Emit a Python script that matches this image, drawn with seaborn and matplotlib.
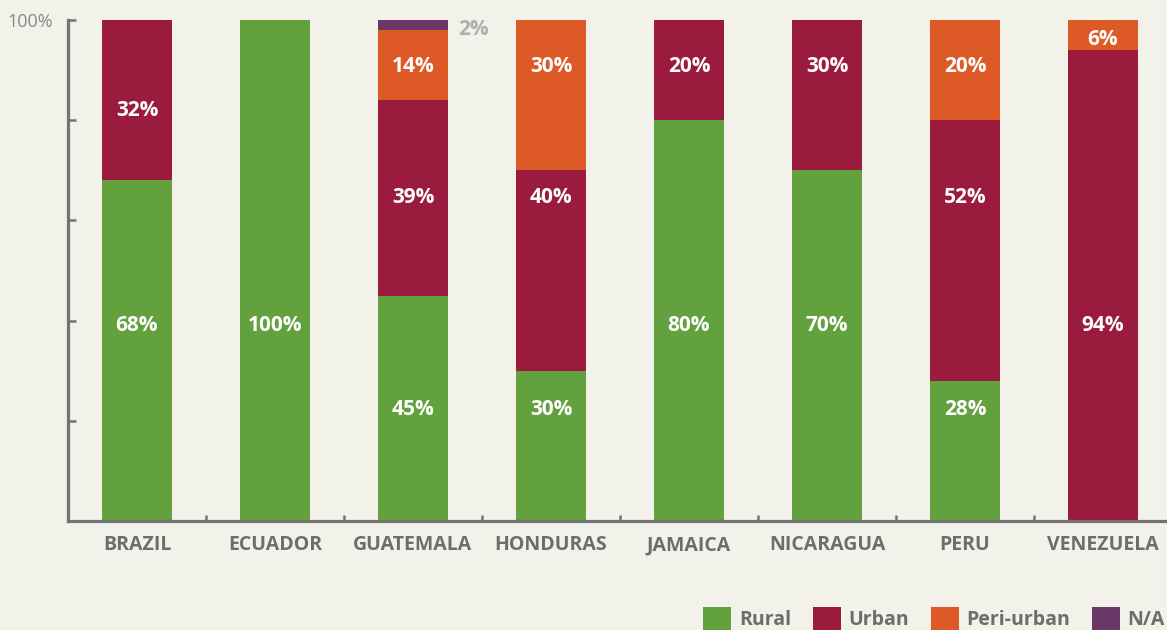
import numpy as np
import pandas as pd
import matplotlib
matplotlib.use("Agg")
import matplotlib.pyplot as plt
import matplotlib.transforms as mtransforms
import seaborn as sns
from matplotlib.patches import Patch

# ---- data ----
countries = ["BRAZIL", "ECUADOR", "GUATEMALA", "HONDURAS", "JAMAICA", "NICARAGUA", "PERU", "VENEZUELA"]
rural = [68, 100, 45, 30, 80, 70, 28, 0]
urban = [32, 0, 39, 40, 20, 30, 52, 94]
peri_urban = [0, 0, 14, 30, 0, 0, 20, 6]
not_available = [0, 0, 2, 0, 0, 0, 0, 0]
series_names = ["Rural", "Urban", "Peri-urban", "N/A"]
y_tick_values = [0, 20, 40, 60, 80, 100]

# label placement (layout, in axis % units) for each value label
label_y_rural = [39.1, 39.1, 22.3, 22.3, 39.1, 39.1, 22.3, 39.1]
label_y_urban = [82.0, None, 64.6, 64.6, 90.7, 90.7, 64.6, 39.1]
label_y_peri = [None, None, 90.7, 90.7, None, None, 90.7, 96.2]

colors = {"Rural": "#63a03e", "Urban": "#9a1b3e", "Peri-urban": "#dd5a27", "N/A": "#6a3766"}
bg = "#f2f1ea"
axis_gray = "#737373"
text_gray = "#6e6e69"

sns.set_style("ticks")
plt.rcParams["font.family"] = ["Open Sans", "DejaVu Sans"]

df = pd.DataFrame({"country": countries, "Rural": rural, "Urban": urban,
                   "Peri-urban": peri_urban, "N/A": not_available})
df["c_rural"] = df["Rural"]
df["c_urban"] = df["c_rural"] + df["Urban"]
df["c_peri"] = df["c_urban"] + df["Peri-urban"]
df["c_na"] = df["c_peri"] + df["N/A"]

fig = plt.figure(figsize=(11.67, 6.30), dpi=100, facecolor=bg)
W, H = 1167, 630
left, right, top, bottom = 68, 1172, 20, 521
ax = fig.add_axes([left / W, (H - bottom) / H, (right - left) / W, (bottom - top) / H])
ax.set_facecolor(bg)

bar_w = 0.51
for col, name in [("c_na", "N/A"), ("c_peri", "Peri-urban"), ("c_urban", "Urban"), ("c_rural", "Rural")]:
    sns.barplot(data=df, x="country", y=col, color=colors[name], width=bar_w,
                saturation=1, ax=ax, linewidth=0, order=countries)

ax.set_xlim(-0.5, 7.5)
ax.set_ylim(0, 100)
ax.set_xlabel("")
ax.set_ylabel("")

# value labels
lab_kw = dict(ha="center", va="center", color="white", fontsize=15, fontweight="bold")
for i in range(len(countries)):
    if rural[i] > 0 and label_y_rural[i] is not None:
        ax.text(i, label_y_rural[i], f"{rural[i]}%", **lab_kw)
    if urban[i] > 0 and label_y_urban[i] is not None:
        ax.text(i, label_y_urban[i], f"{urban[i]}%", **lab_kw)
    if peri_urban[i] > 0 and label_y_peri[i] is not None:
        ax.text(i, label_y_peri[i], f"{peri_urban[i]}%", **lab_kw)
    if not_available[i] > 0:
        ax.text(i + bar_w / 2 + 0.07, 98.1, f"{not_available[i]}%", ha="left", va="center",
                color="#b1afa9", fontsize=15, fontweight="bold")

# spines
for s in ["top", "right"]:
    ax.spines[s].set_visible(False)
for s in ["left", "bottom"]:
    ax.spines[s].set_color(axis_gray)
    ax.spines[s].set_linewidth(2.3)

# y ticks
ax.set_yticks(y_tick_values)
ax.set_yticklabels(["" if v != 100 else "100%" for v in y_tick_values])
ax.tick_params(axis="y", direction="in", length=6, width=1.8, color=axis_gray,
               labelsize=13, labelcolor="#8a8a85", pad=11)

# x ticks: labels at centers (drawn on a common baseline), marks at boundaries
ax.set_xticks(range(len(countries)))
ax.set_xticklabels([])
ax.tick_params(axis="x", which="major", length=0)
trans = mtransforms.blended_transform_factory(ax.transData, ax.transAxes)
base_y = (bottom - 550) / (bottom - top)
for i, c in enumerate(countries):
    ax.text(i, base_y, c, transform=trans, ha="center", va="baseline",
            fontweight="bold", fontsize=14, color=text_gray, clip_on=False)
ax.set_xticks(np.arange(0.5, len(countries) - 0.5, 1), minor=True)
ax.tick_params(axis="x", which="minor", direction="in", length=4, width=1.8, color=axis_gray)

# legend
handles = [Patch(facecolor=colors[n], edgecolor="none", label=n) for n in series_names]
leg = fig.legend(handles=handles, ncol=4, loc="center right",
                 bbox_to_anchor=(1165 / W, (H - 619) / H), frameon=False,
                 prop={"family": ["Open Sans", "DejaVu Sans"], "weight": "bold", "size": 14},
                 handlelength=1.45, handleheight=1.45, handletextpad=0.4,
                 columnspacing=1.1, borderpad=0, borderaxespad=0)
for t in leg.get_texts():
    t.set_color(text_gray)

fig.savefig("out.png", dpi=100, facecolor=bg)
